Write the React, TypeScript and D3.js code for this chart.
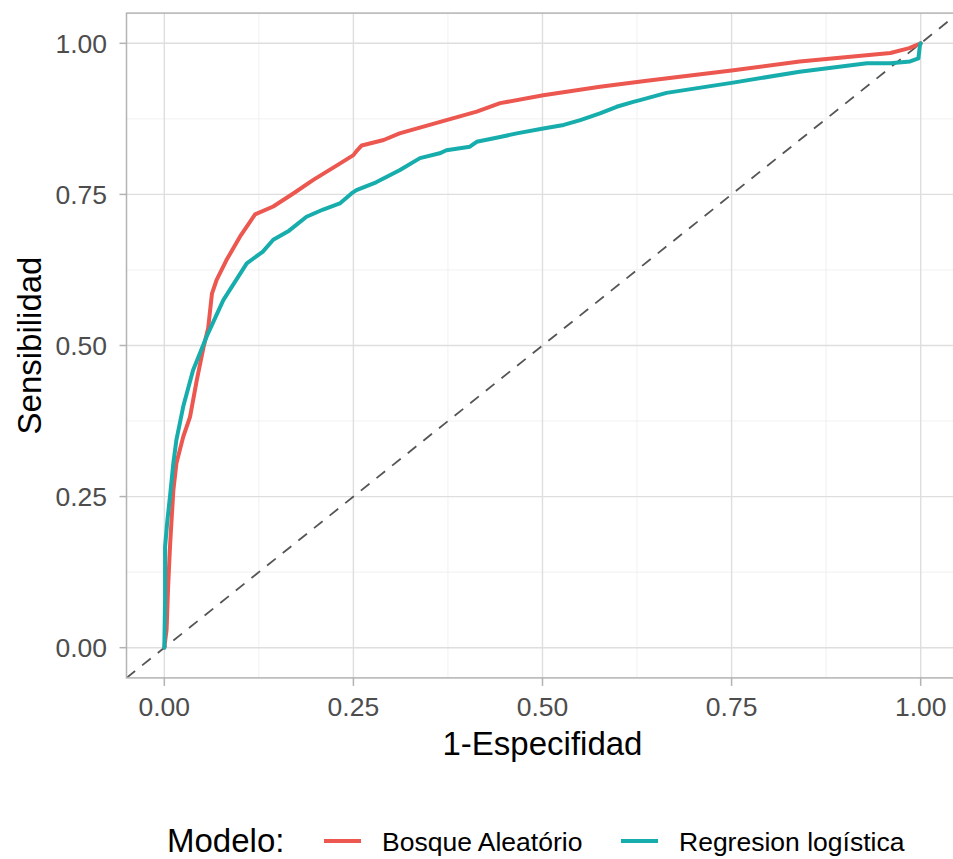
import React, { useEffect, useRef } from 'react';
import * as d3 from 'd3';

// Curva ROC - Bosque Aleatório (1-especificidad, sensibilidad)
const bosqueFpr = [0, 0.003, 0.005, 0.0075, 0.01, 0.012, 0.016, 0.025, 0.034, 0.043, 0.052, 0.058, 0.063, 0.069, 0.082, 0.1, 0.12, 0.144, 0.171, 0.197, 0.232, 0.25, 0.255, 0.261, 0.29, 0.311, 0.373, 0.413, 0.444, 0.501, 0.576, 0.638, 0.75, 0.84, 0.96, 0.985, 1];
const bosqueTpr = [0, 0.03, 0.1, 0.167, 0.22, 0.261, 0.305, 0.349, 0.382, 0.443, 0.498, 0.529, 0.586, 0.608, 0.641, 0.68, 0.717, 0.73, 0.752, 0.774, 0.801, 0.815, 0.823, 0.831, 0.84, 0.851, 0.873, 0.887, 0.901, 0.914, 0.928, 0.938, 0.955, 0.97, 0.984, 0.992, 1];

// Curva ROC - Regresion logística
const regresionFpr = [0, 0.001, 0.001, 0.004, 0.0075, 0.012, 0.016, 0.025, 0.038, 0.056, 0.078, 0.109, 0.13, 0.144, 0.165, 0.188, 0.21, 0.232, 0.249, 0.254, 0.28, 0.311, 0.338, 0.364, 0.373, 0.404, 0.413, 0.444, 0.466, 0.501, 0.528, 0.55, 0.576, 0.598, 0.62, 0.629, 0.664, 0.752, 0.84, 0.929, 0.96, 0.986, 0.997, 0.999, 1];
const regresionTpr = [0, 0.08, 0.167, 0.21, 0.25, 0.306, 0.344, 0.399, 0.459, 0.515, 0.575, 0.636, 0.655, 0.675, 0.69, 0.713, 0.725, 0.735, 0.753, 0.757, 0.77, 0.79, 0.81, 0.818, 0.823, 0.829, 0.837, 0.845, 0.851, 0.859, 0.865, 0.873, 0.884, 0.895, 0.903, 0.906, 0.918, 0.935, 0.953, 0.967, 0.967, 0.97, 0.975, 0.997, 1];

const modelos = ['Bosque Aleatório', 'Regresion logística'];
const colores = ['#EC5750', '#17ADAD'];
const ticks = [0, 0.25, 0.5, 0.75, 1];
const tickLabels = ['0.00', '0.25', '0.50', '0.75', '1.00'];
const minorTicks = [0.125, 0.375, 0.625, 0.875];

export default function App() {
    const ref = useRef<SVGSVGElement>(null);

    useEffect(() => {
        const svg = d3.select(ref.current);
        svg.selectAll('*').remove();

        const left = 126.5, right = 958.5, top = 13.1, bottom = 677.9;
        const x = d3.scaleLinear().domain([-0.05, 1.05]).range([left, right]);
        const y = d3.scaleLinear().domain([-0.05, 1.05]).range([bottom, top]);

        svg.append('defs').append('clipPath').attr('id', 'panel')
            .append('rect')
            .attr('x', left).attr('y', top)
            .attr('width', right - left).attr('height', bottom - top);

        // grid
        const grid = svg.append('g');
        minorTicks.forEach(t => {
            grid.append('line').attr('x1', x(t)).attr('x2', x(t)).attr('y1', top).attr('y2', bottom)
                .attr('stroke', '#ededed').attr('stroke-width', 0.8);
            grid.append('line').attr('y1', y(t)).attr('y2', y(t)).attr('x1', left).attr('x2', right)
                .attr('stroke', '#ededed').attr('stroke-width', 0.8);
        });
        ticks.forEach(t => {
            grid.append('line').attr('x1', x(t)).attr('x2', x(t)).attr('y1', top).attr('y2', bottom)
                .attr('stroke', '#dedede').attr('stroke-width', 1.4);
            grid.append('line').attr('y1', y(t)).attr('y2', y(t)).attr('x1', left).attr('x2', right)
                .attr('stroke', '#dedede').attr('stroke-width', 1.4);
        });

        // diagonal
        svg.append('line')
            .attr('clip-path', 'url(#panel)')
            .attr('x1', x(-0.05)).attr('y1', y(-0.05))
            .attr('x2', x(1.05)).attr('y2', y(1.05))
            .attr('stroke', '#555555').attr('stroke-width', 1.8)
            .attr('stroke-dasharray', '11 9');

        // curves
        const line = d3.line<[number, number]>().x(d => x(d[0])).y(d => y(d[1]));
        const series: [number, number][][] = [
            bosqueFpr.map((v, i) => [v, bosqueTpr[i]] as [number, number]),
            regresionFpr.map((v, i) => [v, regresionTpr[i]] as [number, number]),
        ];
        series.forEach((s, i) => {
            svg.append('path')
                .attr('clip-path', 'url(#panel)')
                .attr('d', line(s))
                .attr('fill', 'none')
                .attr('stroke', colores[i])
                .attr('stroke-width', 4)
                .attr('stroke-linejoin', 'round')
                .attr('stroke-linecap', 'round');
        });

        // panel border
        svg.append('rect')
            .attr('x', left).attr('y', top)
            .attr('width', right - left).attr('height', bottom - top)
            .attr('fill', 'none').attr('stroke', '#b3b3b3').attr('stroke-width', 1.5);

        const font = '"Liberation Sans", Arial, sans-serif';

        // axes
        ticks.forEach((t, i) => {
            svg.append('line').attr('x1', x(t)).attr('x2', x(t)).attr('y1', bottom).attr('y2', bottom + 8)
                .attr('stroke', '#b3b3b3').attr('stroke-width', 1.5);
            svg.append('line').attr('y1', y(t)).attr('y2', y(t)).attr('x1', left - 7).attr('x2', left)
                .attr('stroke', '#b3b3b3').attr('stroke-width', 1.5);
            svg.append('text').attr('x', x(t)).attr('y', 716)
                .attr('text-anchor', 'middle').attr('font-family', font).attr('font-size', 26.5)
                .attr('fill', '#4d4d4d').text(tickLabels[i]);
            svg.append('text').attr('x', 107).attr('y', y(t)).attr('dy', '0.36em')
                .attr('text-anchor', 'end').attr('font-family', font).attr('font-size', 26.5)
                .attr('fill', '#4d4d4d').text(tickLabels[i]);
        });

        svg.append('text').attr('x', (left + right) / 2).attr('y', 755)
            .attr('text-anchor', 'middle').attr('font-family', font).attr('font-size', 33)
            .attr('fill', '#000').text('1-Especifidad');

        svg.append('text')
            .attr('transform', `translate(41,${(top + bottom) / 2}) rotate(-90)`)
            .attr('text-anchor', 'middle').attr('font-family', font).attr('font-size', 33)
            .attr('fill', '#000').text('Sensibilidad');

        // legend
        const ly = 840;
        svg.append('text').attr('x', 167).attr('y', ly).attr('dy', '0.35em')
            .attr('font-family', font).attr('font-size', 33).attr('fill', '#000').text('Modelo:');
        const keyX = [324, 621];
        modelos.forEach((m, i) => {
            svg.append('line').attr('x1', keyX[i]).attr('x2', keyX[i] + 37).attr('y1', ly + 1).attr('y2', ly + 1)
                .attr('stroke', colores[i]).attr('stroke-width', 4);
            svg.append('text').attr('x', keyX[i] + 58).attr('y', ly + 1).attr('dy', '0.36em')
                .attr('font-family', font).attr('font-size', 26.5).attr('fill', '#000').text(m);
        });
    }, []);

    return (
        <svg ref={ref} width={953} height={859}
            style={{ position: 'absolute', left: 0, top: 0, background: '#fff' }} />
    );
}
